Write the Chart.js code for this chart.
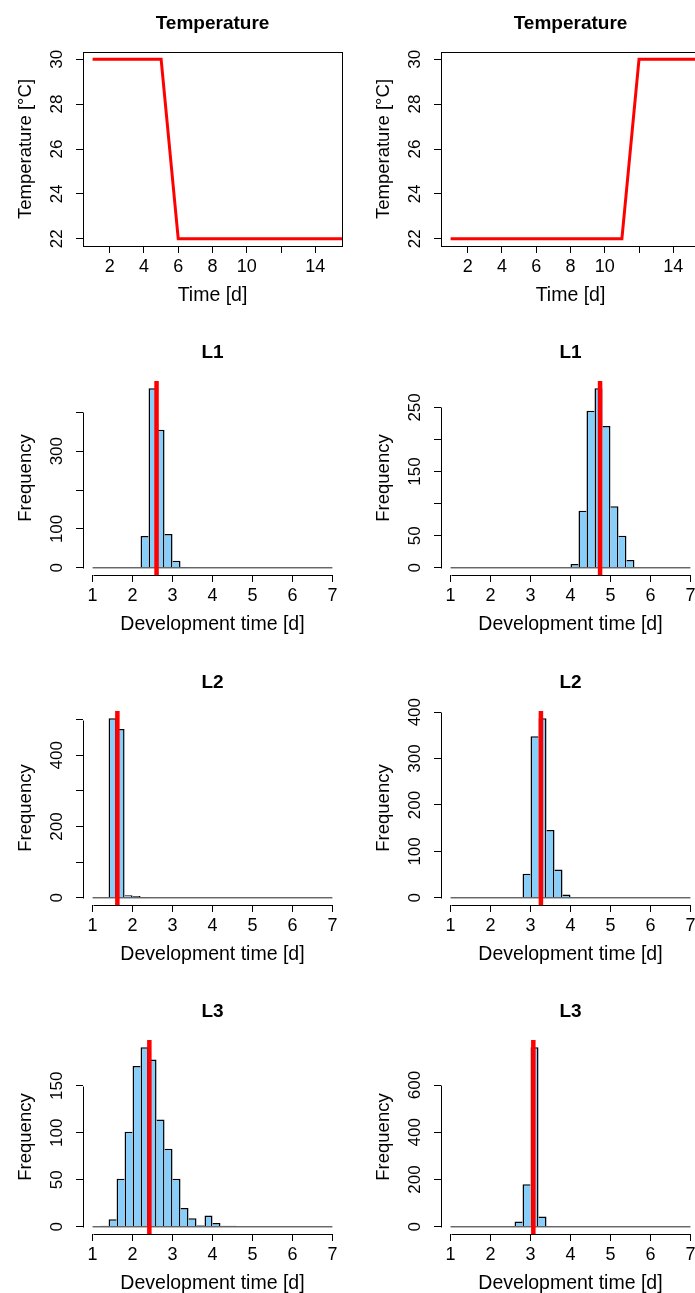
<!DOCTYPE html>
<html>
<head>
<meta charset="utf-8">
<script src="https://cdn.jsdelivr.net/npm/chart.js@4.4.1/dist/chart.umd.min.js"></script>
<style>
html,body{margin:0;padding:0;background:#fff;}
body{width:695px;height:1293px;overflow:hidden;position:relative;}
canvas.p{position:absolute;}
</style>
</head>
<body>
<canvas class="p" id="t0" width="359" height="308" style="left:0px;top:0px"></canvas>
<canvas class="p" id="t1" width="359" height="308" style="left:358px;top:0px"></canvas>
<canvas class="p" id="a0" width="359" height="308" style="left:0px;top:329px"></canvas>
<canvas class="p" id="a1" width="359" height="308" style="left:358px;top:329px"></canvas>
<canvas class="p" id="b0" width="359" height="308" style="left:0px;top:659px"></canvas>
<canvas class="p" id="b1" width="359" height="308" style="left:358px;top:659px"></canvas>
<canvas class="p" id="c0" width="359" height="308" style="left:0px;top:988px"></canvas>
<canvas class="p" id="c1" width="359" height="308" style="left:358px;top:988px"></canvas>
<script>
// ---------- data ----------
const days = [1,2,3,4,5,6,7,8,9,10,11,12,13,14,15,16];
const tempLeft  = [30,30,30,30,30,22,22,22,22,22,22,22,22,22,22,22];
const tempRight = [22,22,22,22,22,22,22,22,22,22,22,30,30,30,30,30];
const tempXLim = [1, 15];
const tempYLim = [22, 30];
const tempXTicks = [2,4,6,8,10,12,14];
const tempXTickLabels = ['2','4','6','8','10','','14'];
const tempYTicks = [22,24,26,28,30];
const tempYTickLabels = ['22','24','26','28','30'];

const binCenters = [1.1,1.3,1.5,1.7,1.9,2.1,2.3,2.5,2.7,2.9,3.1,3.3,3.5,3.7,3.9,4.1,4.3,4.5,4.7,4.9,5.1,5.3,5.5,5.7,5.9,6.1,6.3,6.5,6.7,6.9];
const histRange = [1, 7];
const histXTicks = [1,2,3,4,5,6,7];
const histXTickLabels = ['1','2','3','4','5','6','7'];

const l1Left  = [0,0,0,0,0,0,82,462,355,87,18,2,1,0,0,0,0,0,0,0,0,0,0,0,0,0,0,0,0,0];
const l1Right = [0,0,0,0,0,0,0,0,0,0,0,0,0,0,0,6,89,245,280,221,96,50,12,1,1,0,0,1,0,0];
const l2Left  = [0,0,504,474,7,5,2,0,0,0,0,0,0,0,0,0,0,0,0,0,0,0,0,0,0,0,0,0,0,0];
const l2Right = [0,0,0,0,0,0,0,0,0,52,348,387,146,61,7,2,0,1,0,0,0,0,0,0,0,0,0,0,0,0];
const l3Left  = [0,1,8,51,101,171,191,178,114,83,51,20,9,2,12,4,1,1,0,0,0,0,0,0,0,0,0,0,0,0];
const l3Right = [0,0,0,0,0,2,0,2,23,180,760,44,0,0,0,0,0,0,0,0,0,0,0,0,0,0,0,0,0,0];

const l1LeftMean = 2.60, l1RightMean = 4.74;
const l2LeftMean = 1.62, l2RightMean = 3.26;
const l3LeftMean = 2.42, l3RightMean = 3.07;

const l1LeftYTicks  = [0,100,200,300,400];      const l1LeftYLabels  = ['0','100','','300',''];
const l1RightYTicks = [0,50,100,150,200,250];   const l1RightYLabels = ['0','50','','150','','250'];
const l2LeftYTicks  = [0,100,200,300,400,500];  const l2LeftYLabels  = ['0','','200','','400',''];
const l2RightYTicks = [0,100,200,300,400];      const l2RightYLabels = ['0','100','200','300','400'];
const l3LeftYTicks  = [0,50,100,150];           const l3LeftYLabels  = ['0','50','100','150'];
const l3RightYTicks = [0,200,400,600];          const l3RightYLabels = ['0','200','400','600'];

// ---------- styling ----------
const FAM = '"Liberation Sans", Arial, Helvetica, sans-serif';
const RED = '#FF0000';
const BLUE = '#87CEFA';
const TICK_PX = 18, YTICK_PX = 17, YTITLE_PX = 18.5, XTITLE_PX = 19.5, MAIN_PX = 19;
const AREA_LEFT = 83, XAXIS_H = 62;

function ext(lo, hi) { const d = (hi - lo) * 0.04; return [lo - d, hi + d]; }

const rAxes = {
  id: 'rAxes',
  afterDraw(chart, args, opts) {
    const {ctx, chartArea: a, scales} = chart;
    const x = scales.x, y = scales.y;
    ctx.save();
    ctx.strokeStyle = '#000';
    ctx.lineWidth = 1;
    if (opts.box) {
      ctx.strokeRect(Math.round(a.left) + 0.5, Math.round(a.top) + 0.5,
                     Math.round(a.right - a.left), Math.round(a.bottom - a.top));
    } else {
      const xt = x.ticks, yt = y.ticks;
      const yb = Math.round(a.bottom) + 0.5;
      ctx.beginPath();
      ctx.moveTo(Math.round(x.getPixelForValue(xt[0].value)) + 0.5, yb);
      ctx.lineTo(Math.round(x.getPixelForValue(xt[xt.length - 1].value)) + 0.5, yb);
      const xl = Math.round(a.left) + 0.5;
      ctx.moveTo(xl, Math.round(y.getPixelForValue(yt[0].value)) + 0.5);
      ctx.lineTo(xl, Math.round(y.getPixelForValue(yt[yt.length - 1].value)) + 0.5);
      ctx.stroke();
    }
    // rotated y tick labels (R style, parallel to axis)
    ctx.fillStyle = '#000';
    ctx.font = YTICK_PX + 'px ' + FAM;
    ctx.textAlign = 'center';
    ctx.textBaseline = 'middle';
    y.ticks.forEach((t, i) => {
      const lab = opts.yLabels[i];
      if (!lab) return;
      ctx.save();
      ctx.translate(a.left - 25.5, y.getPixelForValue(t.value));
      ctx.rotate(-Math.PI / 2);
      ctx.fillText(lab, 0, 0);
      ctx.restore();
    });
    ctx.restore();
  }
};
Chart.register(rAxes);

function baseOptions(cfg) {
  return {
    responsive: false,
    animation: false,
    devicePixelRatio: 1,
    layout: {padding: {left: 0, right: 17, top: 0, bottom: 0}},
    events: [],
    plugins: {
      legend: {display: false},
      tooltip: {enabled: false},
      title: {
        display: true, text: cfg.title, color: '#000', fullSize: false,
        font: {family: FAM, size: MAIN_PX, weight: 'bold', lineHeight: 1.2},
        padding: {top: 12.4, bottom: 52 - 12.4 - MAIN_PX * 1.2}
      },
      rAxes: {box: cfg.box, yLabels: cfg.yLabels}
    },
    scales: {
      x: {
        type: 'linear', min: cfg.xr[0], max: cfg.xr[1], offset: false,
        afterBuildTicks: s => { s.ticks = cfg.xTicks.map(v => ({value: v})); },
        afterFit: s => { s.height = XAXIS_H; },
        ticks: {
          autoSkip: false, maxRotation: 0, minRotation: 0, padding: 3.5, color: '#000',
          font: {family: FAM, size: TICK_PX, lineHeight: 1.2},
          callback: (v, i) => cfg.xLabels[i]
        },
        grid: {offset: false, drawOnChartArea: false, drawTicks: true, tickLength: 7, tickColor: '#000', tickWidth: 1, color: '#000'},
        border: {display: false},
        title: {
          display: true, text: cfg.xTitle, color: '#000',
          font: {family: FAM, size: XTITLE_PX, lineHeight: 1.2},
          padding: {top: 0, bottom: 12 - XTITLE_PX * 0.6}
        }
      },
      y: {
        type: 'linear', min: cfg.yr[0], max: cfg.yr[1],
        afterBuildTicks: s => { s.ticks = cfg.yTicks.map(v => ({value: v})); },
        afterFit: s => { s.width = AREA_LEFT; },
        ticks: {display: false},
        grid: {drawOnChartArea: false, drawTicks: true, tickLength: 7, tickColor: '#000', tickWidth: 1, color: '#000'},
        border: {display: false},
        title: {
          display: true, text: cfg.yTitle, color: '#000',
          font: {family: FAM, size: YTITLE_PX, lineHeight: 1.2},
          padding: {top: 26 - YTITLE_PX * 0.6, bottom: 0}
        }
      }
    }
  };
}

function makeTemp(id, temps) {
  const cfg = {
    title: 'Temperature', box: true, yLabels: tempYTickLabels,
    xr: ext(tempXLim[0], tempXLim[1]), yr: ext(tempYLim[0], tempYLim[1]),
    xTicks: tempXTicks, xLabels: tempXTickLabels, yTicks: tempYTicks,
    xTitle: 'Time [d]', yTitle: 'Temperature [°C]'
  };
  new Chart(document.getElementById(id), {
    type: 'line',
    data: {datasets: [{
      data: days.map((d, i) => ({x: d, y: temps[i]})),
      borderColor: RED, borderWidth: 3, pointRadius: 0, tension: 0, clip: 0, fill: false
    }]},
    options: baseOptions(cfg)
  });
}

function makeHist(id, title, counts, mean, yTicks, yLabels) {
  const M = Math.max(...counts);
  const yr = ext(0, M);
  const cfg = {
    title: title, box: false, yLabels: yLabels,
    xr: ext(histRange[0], histRange[1]), yr: yr,
    xTicks: histXTicks, xLabels: histXTickLabels, yTicks: yTicks,
    xTitle: 'Development time [d]', yTitle: 'Frequency'
  };
  new Chart(document.getElementById(id), {
    type: 'bar',
    data: {datasets: [
      {
        type: 'line', order: 0,
        data: [{x: mean, y: yr[0]}, {x: mean, y: yr[1]}],
        borderColor: RED, borderWidth: 4.5, pointRadius: 0, fill: false
      },
      {
        type: 'line', order: 1,
        data: [{x: histRange[0], y: 0}, {x: histRange[1], y: 0}],
        borderColor: '#222', borderWidth: 1, pointRadius: 0, fill: false
      },
      {
        type: 'bar', order: 2,
        data: binCenters.map((c, i) => ({x: c, y: counts[i]})),
        backgroundColor: BLUE, borderColor: '#000',
        borderWidth: (c) => {
          // each shared edge is drawn once, by the taller neighbour
          const d = c.dataset.data, i = c.dataIndex, cur = d[i].y;
          const prev = i > 0 ? d[i - 1].y : 0;
          const next = i < d.length - 1 ? d[i + 1].y : 0;
          return {top: 1.5, left: prev <= cur ? 1.5 : 0, right: next < cur ? 1.5 : 0, bottom: 0};
        },
        barPercentage: 1, categoryPercentage: 1, inflateAmount: 0
      }
    ]},
    options: baseOptions(cfg)
  });
}

makeTemp('t0', tempLeft);
makeTemp('t1', tempRight);
makeHist('a0', 'L1', l1Left,  l1LeftMean,  l1LeftYTicks,  l1LeftYLabels);
makeHist('a1', 'L1', l1Right, l1RightMean, l1RightYTicks, l1RightYLabels);
makeHist('b0', 'L2', l2Left,  l2LeftMean,  l2LeftYTicks,  l2LeftYLabels);
makeHist('b1', 'L2', l2Right, l2RightMean, l2RightYTicks, l2RightYLabels);
makeHist('c0', 'L3', l3Left,  l3LeftMean,  l3LeftYTicks,  l3LeftYLabels);
makeHist('c1', 'L3', l3Right, l3RightMean, l3RightYTicks, l3RightYLabels);
</script>
</body>
</html>
